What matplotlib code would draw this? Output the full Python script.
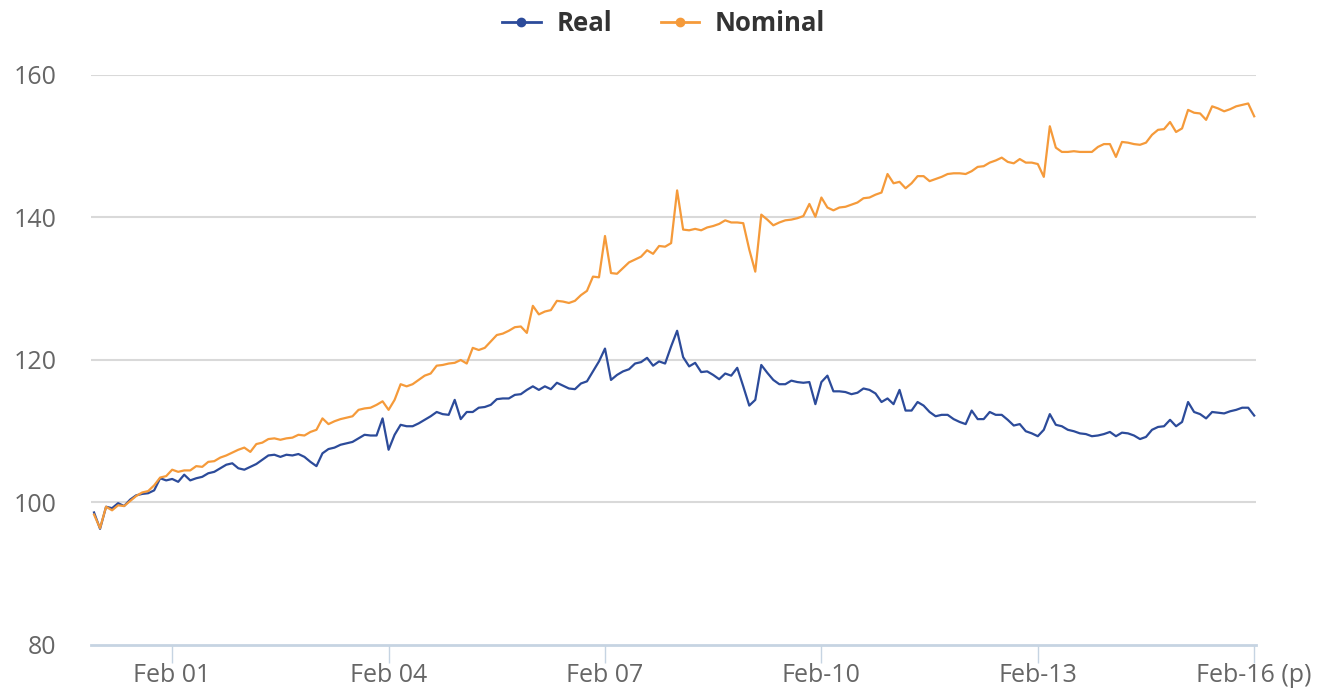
import matplotlib
matplotlib.use("Agg")
import matplotlib.pyplot as plt
from matplotlib.lines import Line2D
import pandas as pd

# Monthly index, Jan 2000 .. Feb 2016
months = pd.date_range("2000-01-01", periods=194, freq="MS")

real = [
    98.6, 96.3, 99.4, 99.2, 99.9, 99.5, 100.4, 101.0, 101.2, 101.3, 101.7, 103.4, 103.1, 103.3, 102.9, 103.9,
    103.1, 103.4, 103.6, 104.1, 104.3, 104.8, 105.3, 105.5, 104.8, 104.6, 105.0, 105.4, 106.0, 106.6, 106.7, 106.4, 106.7,
    106.6, 106.8, 106.4, 105.7, 105.1, 106.9, 107.5, 107.7, 108.1, 108.3, 108.5, 109.0, 109.5, 109.4, 109.4, 111.8,
    107.4, 109.5, 110.9, 110.7, 110.7, 111.1, 111.6, 112.1, 112.7, 112.4, 112.3, 114.4, 111.7, 112.7, 112.7,
    113.3, 113.4, 113.7, 114.5, 114.6, 114.6, 115.1, 115.2, 115.8, 116.3, 115.8, 116.3, 115.9, 116.8, 116.4, 116.0,
    115.9, 116.7, 117.0, 118.4, 119.8, 121.6, 117.2, 117.9, 118.4, 118.7, 119.5, 119.7, 120.3, 119.2, 119.8, 119.5,
    121.9, 124.1, 120.4, 119.1, 119.6, 118.3, 118.4, 117.9, 117.3, 118.1, 117.8, 118.9, 116.3, 113.6, 114.4, 119.3,
    118.2, 117.2, 116.6, 116.6, 117.1, 116.9, 116.8, 116.9, 113.8, 116.9, 117.8, 115.6, 115.6, 115.5, 115.2, 115.4,
    116.0, 115.8, 115.3, 114.1, 114.6, 113.8, 115.8, 112.9, 112.9, 114.1, 113.6, 112.7, 112.1, 112.3, 112.3, 111.7,
    111.3, 111.0, 112.9, 111.7, 111.7, 112.7, 112.3, 112.3, 111.6, 110.8, 111.0, 110.0, 109.7, 109.3, 110.2, 112.4, 110.9,
    110.7, 110.2, 110.0, 109.7, 109.6, 109.3, 109.4, 109.6, 109.9, 109.3, 109.8, 109.7, 109.4, 108.9, 109.2, 110.2,
    110.6, 110.7, 111.6, 110.7, 111.3, 114.1, 112.7, 112.4, 111.8, 112.7, 112.6, 112.5, 112.8, 113.0, 113.3, 113.3, 112.2,
]

nominal = [
    98.3, 96.4, 99.4, 98.9, 99.6, 99.5, 100.2, 100.9, 101.4, 101.6, 102.4, 103.5, 103.7, 104.6, 104.3, 104.5,
    104.5, 105.1, 105.0, 105.7, 105.8, 106.3, 106.6, 107.0, 107.4, 107.7, 107.1, 108.2, 108.4, 108.9, 109.0, 108.8, 109.0,
    109.1, 109.5, 109.4, 109.9, 110.2, 111.8, 111.0, 111.4, 111.7, 111.9, 112.1, 113.0, 113.2, 113.3, 113.7, 114.2,
    113.0, 114.4, 116.6, 116.3, 116.6, 117.2, 117.8, 118.1, 119.2, 119.3, 119.5, 119.6, 120.0, 119.5, 121.7,
    121.4, 121.7, 122.6, 123.5, 123.7, 124.1, 124.6, 124.7, 123.8, 127.6, 126.4, 126.8, 127.0, 128.3, 128.2, 128.0,
    128.3, 129.1, 129.7, 131.7, 131.6, 137.4, 132.2, 132.1, 132.9, 133.7, 134.1, 134.5, 135.4, 134.9, 136.0, 135.9,
    136.4, 143.8, 138.3, 138.2, 138.4, 138.2, 138.6, 138.8, 139.1, 139.6, 139.3, 139.3, 139.2, 135.5, 132.4, 140.4,
    139.7, 138.9, 139.3, 139.6, 139.7, 139.9, 140.2, 141.9, 140.1, 142.8, 141.4, 141.0, 141.4, 141.5, 141.8, 142.1,
    142.7, 142.8, 143.2, 143.5, 146.1, 144.8, 145.0, 144.1, 144.8, 145.8, 145.8, 145.1, 145.4, 145.7, 146.1, 146.2,
    146.2, 146.1, 146.5, 147.1, 147.2, 147.7, 148.0, 148.4, 147.8, 147.6, 148.2, 147.7, 147.7, 147.5, 145.7, 152.8, 149.8,
    149.2, 149.2, 149.3, 149.2, 149.2, 149.2, 149.9, 150.3, 150.3, 148.5, 150.6, 150.5, 150.3, 150.2, 150.5, 151.6,
    152.3, 152.4, 153.4, 152.0, 152.5, 155.1, 154.7, 154.6, 153.7, 155.6, 155.3, 154.9, 155.2, 155.6, 155.8, 156.0, 154.2,
]

assert len(real) == len(months) == len(nominal)

tick_dates = ["2001-02-01", "2004-02-01", "2007-02-01", "2010-02-01", "2013-02-01", "2016-02-01"]
tick_labels = ["Feb 01", "Feb 04", "Feb 07", "Feb-10", "Feb-13", "Feb-16 (p)"]
y_ticks = [80, 100, 120, 140, 160]

series_names = ["Real", "Nominal"]
colors = ["#2c4b9a", "#f59a3a"]

plt.rcParams["font.family"] = ["Open Sans", "DejaVu Sans"]

x = list(range(len(months)))
month_pos = {d.strftime("%Y-%m-%d"): i for i, d in enumerate(months)}
tick_pos = [month_pos[d] for d in tick_dates]

fig = plt.figure(figsize=(13.27, 6.91), dpi=100)
ax = fig.add_axes([0.0686, 0.0666, 0.8779, 0.8249])

grid_color = "#d9d9d9"
for yv in y_ticks[1:]:
    ax.axhline(yv, color=grid_color, lw=1.5, zorder=1)

ax.plot(x, real, color=colors[0], lw=1.6, zorder=3)
ax.plot(x, nominal, color=colors[1], lw=1.6, zorder=3)

ax.set_xlim(-0.5, 193.3)
ax.set_ylim(80, 160)

for s in ["top", "right", "left"]:
    ax.spines[s].set_visible(False)
ax.spines["bottom"].set_color("#c6d4e2")
ax.spines["bottom"].set_linewidth(2)

ax.set_yticks(y_ticks)
ax.set_yticklabels([str(v) for v in y_ticks])
ax.tick_params(axis="y", length=0, pad=25, labelsize=18, labelcolor="#666666")
ax.set_xticks(tick_pos)
ax.set_xticklabels(tick_labels)
ax.tick_params(axis="x", length=13, width=1, color="#c6d4e2", pad=0,
               labelsize=18, labelcolor="#666666")

handles = [Line2D([0], [0], color=c, lw=2, marker="o", markersize=6) for c in colors]
leg = fig.legend(handles, series_names, loc="upper center", bbox_to_anchor=(0.5, 1.019),
                 ncol=2, frameon=False, handlelength=1.5, handletextpad=0.6, columnspacing=1.9,
                 prop={"family": ["Open Sans", "DejaVu Sans"], "weight": "bold", "size": 18.5})
for t in leg.get_texts():
    t.set_color("#333333")

fig.savefig("out.png", dpi=100)
